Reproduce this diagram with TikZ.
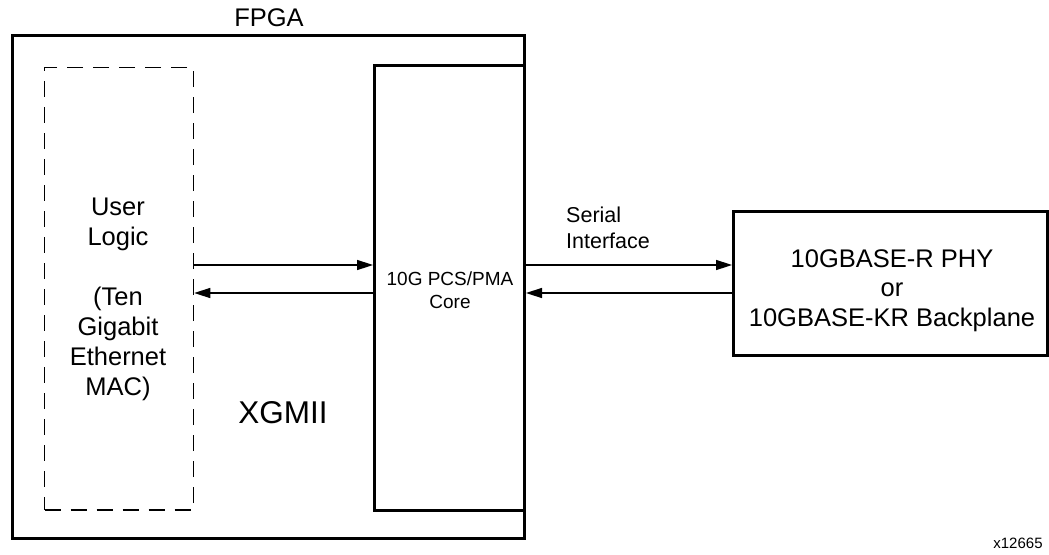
\documentclass[tikz,border=0pt]{standalone}
\usepackage{fontspec}
\setmainfont{Liberation Sans}
\usetikzlibrary{arrows.meta}
\begin{document}
\begin{tikzpicture}[x=1pt,y=-1pt,
  thickbox/.style={draw, line width=3pt, inner sep=0pt, anchor=center},
  dashbox/.style={draw, line width=1.5pt, dash pattern=on 16pt off 10pt, inner sep=0pt, anchor=center},
  arr/.style={line width=1.5pt, -{Triangle[length=16pt,width=10pt]}},
  lbl/.style={inner sep=0pt, align=center, anchor=base}
]
\useasboundingbox (0,0) rectangle (1049,554);
\node[thickbox, minimum width=512.5pt, minimum height=503pt] (fpga) at (268.25,287) {};
\node[thickbox, minimum width=150pt, minimum height=445.5pt] (core) at (449.5,287.75) {};
\node[dashbox, minimum width=149pt, minimum height=442.5pt] (user) at (119,288.75) {};
\node[thickbox, minimum width=314pt, minimum height=144pt] (phy) at (890.5,283) {};

\coordinate (ya) at (0,265);
\coordinate (yb) at (0,293);
\draw[arr] (user.east |- ya) -- (core.west |- ya);
\draw[arr] (core.west |- yb) -- (user.east |- yb);
\draw[arr] (core.east |- ya) -- (phy.west |- ya);
\draw[arr] (phy.west |- yb) -- (core.east |- yb);

\node[lbl, font=\fontsize{25.5}{30.6}\selectfont] (fpgalbl) at (269,27) {FPGA};
\node[lbl, font=\fontsize{25.5}{30}\selectfont] (userlbl) at (118,395) {User\\Logic\\\mbox{}\\(Ten\\Gigabit\\Ethernet\\MAC)};
\node[lbl, font=\fontsize{31.5}{38}\selectfont] (xgmii) at (283,423) {XGMII};
\node[lbl, font=\fontsize{19}{23}\selectfont] (corelbl) at (450,308) {10G PCS/PMA\\Core};
\node[lbl, align=left, anchor=base west, font=\fontsize{21.5}{26}\selectfont] (serial) at (566,248) {Serial\\Interface};
\node[lbl, font=\fontsize{25.5}{29.5}\selectfont] (phylbl) at (892,326) {10GBASE-R PHY\\or\\10GBASE-KR Backplane};
\node[lbl, font=\fontsize{15}{18}\selectfont] (fig) at (1018,548) {x12665};
\end{tikzpicture}
\end{document}
